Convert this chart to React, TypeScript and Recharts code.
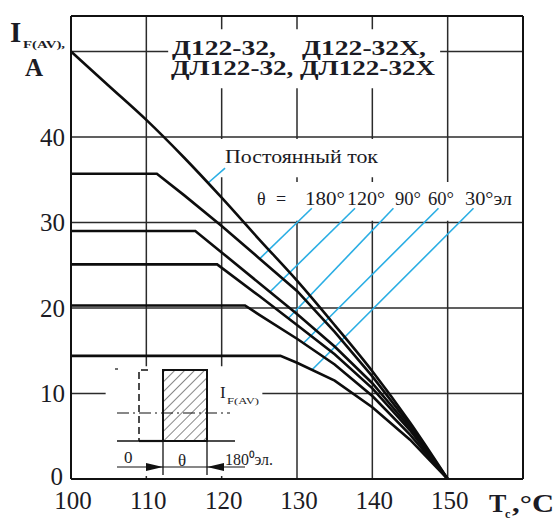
import React from 'react';
import {
  LineChart,
  Line,
  XAxis,
  YAxis,
  CartesianGrid,
  ReferenceLine,
  ReferenceArea,
} from 'recharts';

// Ic(AV) vs case temperature, one curve per conduction angle
const dcTemp = [100, 105, 110, 115, 120, 125, 130, 135, 140, 145, 150];
const dcCurrent = [50, 46, 42, 37.6, 32.9, 28, 23.2, 18, 12.6, 6.6, 0];

const deg180Temp = [100, 111.4, 115, 120, 125, 130, 135, 140, 145, 150];
const deg180Current = [35.7, 35.7, 33.2, 29.6, 25.8, 22, 17.2, 12, 6.3, 0];

const deg120Temp = [100, 116.5, 120, 125, 130, 135, 140, 145, 150];
const deg120Current = [29, 29, 26.5, 22.9, 19.3, 15.5, 11.2, 6, 0];

const deg90Temp = [100, 119.4, 125, 130, 135, 140, 145, 150];
const deg90Current = [25.1, 25.1, 21.4, 18, 14.6, 10.6, 5.7, 0];

const deg60Temp = [100, 123.1, 125, 130, 135, 140, 145, 150];
const deg60Current = [20.3, 20.3, 19.2, 16.4, 13.4, 9.7, 5.2, 0];

const deg30Temp = [100, 127.8, 130, 135, 140, 145, 150];
const deg30Current = [14.4, 14.4, 13.6, 11.5, 8.4, 4.6, 0];

const xTicks = [100, 110, 120, 130, 140, 150, 160];
const yTicks = [0, 10, 20, 30, 40, 50];
const yMax = 54.15;

// blue callout lines: label end -> curve end
const leaderFrom = [
  { t: 120.45, i: 36.37 },
  { t: 131.97, i: 31.66 },
  { t: 137.7, i: 31.66 },
  { t: 142.8, i: 31.66 },
  { t: 148.78, i: 31.66 },
  { t: 153.43, i: 31.66 },
];
const leaderTo = [
  { t: 118.19, i: 34.62 },
  { t: 125.1, i: 25.81 },
  { t: 126.43, i: 21.9 },
  { t: 128.86, i: 18.8 },
  { t: 130.85, i: 15.87 },
  { t: 131.97, i: 12.75 },
];

// white patches behind the captions (grid is broken there)
const blankAreas = [
  { t1: 112.9, t2: 149.0, i1: 45.7, i2: 52.6 },
  { t1: 119.1, t2: 141.7, i1: 35.3, i2: 39.75 },
  { t1: 123.8, t2: 159.6, i1: 30.2, i2: 34.75 },
  { t1: 104.6, t2: 125.4, i1: 0.35, i2: 13.2 },
];

const toPoints = (temps: number[], currents: number[]) =>
  temps.map((t, k) => ({ t, i: currents[k] }));

const series = [
  toPoints(dcTemp, dcCurrent),
  toPoints(deg180Temp, deg180Current),
  toPoints(deg120Temp, deg120Current),
  toPoints(deg90Temp, deg90Current),
  toPoints(deg60Temp, deg60Current),
  toPoints(deg30Temp, deg30Current),
];

const FONT = "'Liberation Serif', 'Times New Roman', serif";
const INK = '#1b1b24';
const BLUE = '#2aaee4';

const XTick = (props: any) => {
  const { x, y, payload } = props;
  if (payload.value === 160) return null;
  return (
    <text x={x + 2} y={y + 30} textAnchor="middle" fontFamily={FONT} fontSize={25} fill={INK}>
      {payload.value}
    </text>
  );
};

const YTick = (props: any) => {
  const { x, y, payload } = props;
  if (payload.value === 50) return null;
  return (
    <text
      x={payload.value === 0 ? x - 8 : x - 6}
      y={payload.value === 0 ? y + 6 : y + 9}
      textAnchor="end"
      fontFamily={FONT}
      fontSize={25}
      fill={INK}
    >
      {payload.value}
    </text>
  );
};

const Overlay = () => (
  <svg
    width={558}
    height={520}
    style={{ position: 'absolute', left: 0, top: 0, pointerEvents: 'none' }}
    fontFamily={FONT}
  >
    <defs>
      <pattern id="hatch" width={7} height={7} patternUnits="userSpaceOnUse" patternTransform="rotate(45)">
        <line x1={0} y1={0} x2={0} y2={7} stroke="#111" strokeWidth={1} />
      </pattern>
    </defs>

    {/* axis titles */}
    <g fill={INK} fontWeight="bold">
      <text x={10} y={42} fontSize={29}>I</text>
      <text x={23} y={48} fontSize={11} textLength={42} lengthAdjust="spacingAndGlyphs">F(AV),</text>
      <text x={25} y={76} fontSize={25}>A</text>
      <text x={489} y={512} fontSize={26}>T</text>
      <text x={505} y={518} fontSize={12}>c</text>
      <text x={512} y={512} fontSize={26} textLength={42} lengthAdjust="spacingAndGlyphs">,°C</text>
    </g>

    {/* title */}
    <g fill={INK} fontWeight="bold" fontSize={20}>
      <text x={172} y={55} textLength={104} lengthAdjust="spacingAndGlyphs">Д122-32,</text>
      <text x={302} y={55} textLength={124} lengthAdjust="spacingAndGlyphs">Д122-32Х,</text>
      <text x={171} y={75} textLength={264} lengthAdjust="spacingAndGlyphs">ДЛ122-32, ДЛ122-32Х</text>
    </g>

    {/* captions */}
    <g fill={INK} fontSize={18}>
      <text x={225} y={163} textLength={153} lengthAdjust="spacingAndGlyphs">Постоянный ток</text>
      <text x={257} y={205}>θ</text>
      <text x={276} y={205}>=</text>
      <text x={305} y={205} textLength={40} lengthAdjust="spacingAndGlyphs">180°</text>
      <text x={347} y={205} textLength={38} lengthAdjust="spacingAndGlyphs">120°</text>
      <text x={395} y={205} textLength={26} lengthAdjust="spacingAndGlyphs">90°</text>
      <text x={428} y={205} textLength={26} lengthAdjust="spacingAndGlyphs">60°</text>
      <text x={465} y={205} textLength={47} lengthAdjust="spacingAndGlyphs">30°эл</text>
    </g>

    {/* waveform inset */}
    <g stroke="#111" fill="none">
      <line x1={115} y1={369} x2={118} y2={369} strokeWidth={1.2} />
      <line x1={117} y1={413} x2={230} y2={413} strokeWidth={1.2} strokeDasharray="12 4 2 4" />
      <polyline points="148,370 139,370 139,441" strokeWidth={1.5} strokeDasharray="7 4" />
      <line x1={117} y1={441} x2={235} y2={441} strokeWidth={1.3} />
      <line x1={139} y1={441} x2={163} y2={441} strokeWidth={2.2} />
      <rect x={163} y={370} width={44} height={71} fill="url(#hatch)" strokeWidth={2} />
      <line x1={163} y1={441} x2={163} y2={475} strokeWidth={1.3} />
      <line x1={207} y1={441} x2={207} y2={475} strokeWidth={1.3} />
      <line x1={117} y1={467} x2={245} y2={467} strokeWidth={1.2} />
    </g>
    <polygon points="163,467 146,463 146,471" fill="#111" />
    <polygon points="207,467 224,463 224,471" fill="#111" />
    <g fill={INK} fontSize={17}>
      <text x={124} y={463}>0</text>
      <text x={178} y={466}>θ</text>
      <text x={225} y={465} textLength={48} lengthAdjust="spacingAndGlyphs">180⁰эл.</text>
      <text x={220} y={398}>I</text>
      <text x={227} y={404} fontSize={9} textLength={32} lengthAdjust="spacingAndGlyphs">F(AV)</text>
    </g>
  </svg>
);

export default function App() {
  return (
    <div style={{ position: 'absolute', left: 0, top: 0, width: 558, height: 520, background: '#fff' }}>
      <LineChart
        width={558}
        height={520}
        margin={{ top: 16, right: 35, bottom: 11, left: 11 }}
      >
        <CartesianGrid stroke="#2b2b2b" strokeWidth={1.5} />
        <XAxis
          type="number"
          dataKey="t"
          domain={[100, 160]}
          ticks={xTicks}
          height={30}
          tickSize={0}
          tickMargin={0}
          tickLine={false}
          axisLine={{ stroke: '#111', strokeWidth: 2 }}
          tick={<XTick />}
          allowDataOverflow
        />
        <YAxis
          type="number"
          dataKey="i"
          domain={[0, yMax]}
          ticks={yTicks}
          width={60}
          tickSize={0}
          tickMargin={0}
          tickLine={false}
          axisLine={{ stroke: '#111', strokeWidth: 2 }}
          tick={<YTick />}
          allowDataOverflow
        />
        <ReferenceLine y={yMax} stroke="#111" strokeWidth={2} ifOverflow="extendDomain" />
        <ReferenceLine x={160} stroke="#111" strokeWidth={2} ifOverflow="extendDomain" />
        {blankAreas.map((a, k) => (
          <ReferenceArea
            key={`blank-${k}`}
            x1={a.t1}
            x2={a.t2}
            y1={a.i1}
            y2={a.i2}
            fill="#fff"
            fillOpacity={1}
            stroke="none"
          />
        ))}
        {leaderFrom.map((p, k) => (
          <ReferenceLine
            key={`leader-${k}`}
            segment={[p, leaderTo[k]].map((q) => ({ x: q.t, y: q.i }))}
            stroke={BLUE}
            strokeWidth={1.6}
          />
        ))}
        {series.map((s, k) => (
          <Line
            key={`curve-${k}`}
            data={s}
            dataKey="i"
            type={k === 0 ? 'monotone' : 'linear'}
            stroke="#0d0d0d"
            strokeWidth={2.6}
            dot={false}
            isAnimationActive={false}
          />
        ))}
      </LineChart>
      <Overlay />
    </div>
  );
}
